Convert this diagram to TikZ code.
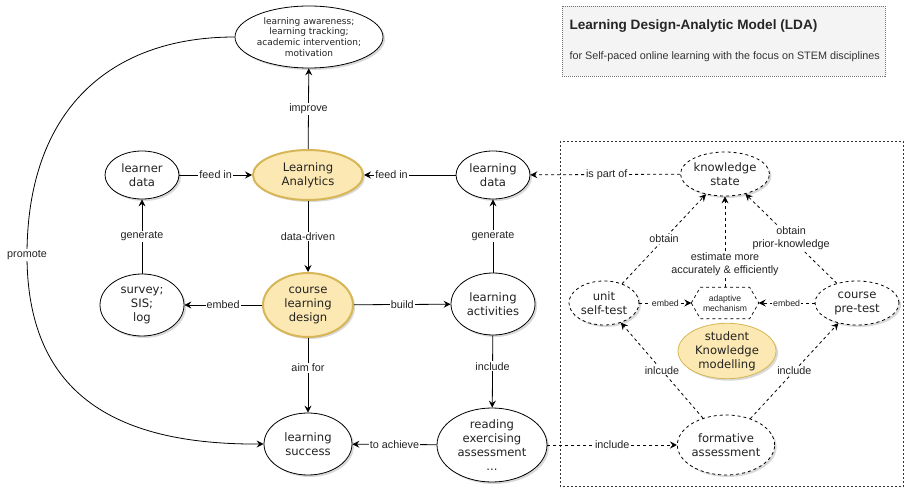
\documentclass[tikz,border=0pt]{standalone}
\usepackage{fontspec}
\setmainfont{DejaVu Sans}
\newfontfamily\lblfont{Liberation Sans}
\usetikzlibrary{arrows.meta,shapes.geometric,shadows,calc}
\definecolor{goldline}{HTML}{D6B656}
\definecolor{goldfill}{HTML}{FCE8B2}
\definecolor{legendfill}{HTML}{F4F4F4}
\definecolor{inkgray}{HTML}{222222}
\begin{document}
\begin{tikzpicture}[x=1pt,y=-1pt,
  every node/.style={align=center, text=inkgray},
  nodetext/.style={font=\fontsize{11.6}{14}\selectfont},
  sz/.style 2 args={minimum width=#1pt, minimum height=#2pt},
  softshadow/.style={drop shadow={shadow xshift=2pt, shadow yshift=-2pt, opacity=0.25, fill=black!60}},
  oval/.style={ellipse, draw=black, line width=0.8pt, fill=white, inner sep=0pt, nodetext, softshadow},
  goldoval/.style={oval, draw=goldline, fill=goldfill, line width=2pt},
  dashoval/.style={oval, dash pattern=on 3pt off 3pt},
  lbl/.style={fill=white, inner sep=1pt, font=\lblfont\fontsize{10.8}{13}\selectfont},
  smalllbl/.style={lbl, font=\lblfont\fontsize{8.8}{10}\selectfont},
  arr/.style={draw=black, line width=0.8pt, -{Stealth[length=7pt, width=7pt, inset=2.5pt]}},
  darr/.style={arr, dash pattern=on 3pt off 3pt},
]
\useasboundingbox (0,0) rectangle (905,489);

% legend
\node[draw=black!55, dash pattern=on 1pt off 1pt, fill=legendfill, line width=0.6pt,
      minimum width=323pt, minimum height=70pt, anchor=north west] (legend) at (562,6) {};
\node[anchor=west, font=\lblfont\bfseries\fontsize{13.6}{16}\selectfont, text=black!85] (ltitle) at (566,26) {Learning Design-Analytic Model (LDA)};
\node[anchor=west, font=\lblfont\fontsize{10.8}{13}\selectfont, text=black!80] (lsub) at (566,57) {for Self-paced online learning with the focus on STEM disciplines};

% knowledge modelling frame
\draw[black!80, line width=0.7pt, dash pattern=on 2pt off 2pt] (560,141) rectangle (903.5,486);

% main nodes
\node[oval, sz={148}{62}, font=\fontsize{9}{10.8}\selectfont] (aware) at (309,37)
  {learning awareness;\\learning tracking;\\academic intervention;\\motivation};
\node[oval, sz={74}{48}] (learner) at (142,175) {learner\\data};
\node[goldoval, sz={110}{50}] (la) at (308,175) {Learning\\Analytics};
\node[oval, sz={74}{48}] (ldata) at (493,175) {learning\\data};
\node[oval, sz={84}{62}] (survey) at (142,305) {survey;\\SIS;\\log};
\node[goldoval, sz={90}{64}] (cld) at (308,305) {course\\learning\\design};
\node[oval, sz={84}{62}] (acts) at (493,304) {learning\\activities};
\node[oval, sz={88}{62}] (success) at (308,444) {learning\\success};
\node[oval, sz={110}{74}] (reading) at (492,445) {reading\\exercising\\assessment\\...};

% knowledge modelling nodes
\node[dashoval, sz={76}{44}] (kstate) at (725,174) {knowledge\\state};
\node[dashoval, sz={70}{44}] (unit) at (604,303) {unit\\self-test};
\node[dashoval, sz={84}{44}] (pretest) at (857,303) {course\\pre-test};
\node[sz={67}{31}, inner sep=0pt, font=\lblfont\fontsize{8.6}{10}\selectfont] (adm) at (725,303) {adaptive\\mechanism};
\draw[black, line width=0.7pt, dash pattern=on 3pt off 3pt]
  (adm.west) -- ($(adm.north west)+(9,0)$) -- ($(adm.north east)+(-9,0)$) -- (adm.east)
  -- ($(adm.south east)+(-9,0)$) -- ($(adm.south west)+(9,0)$) -- cycle;
\node[oval, draw=goldline, fill=goldfill, line width=0.8pt, sz={98}{50}] (skm) at (727,351) {student\\Knowledge\\modelling};
\node[dashoval, sz={86}{60}] (formative) at (726,445) {formative\\assessment};

% solid connectors
\draw[arr] (la) -- node[lbl]{improve} (aware);
\draw[arr] (learner) -- node[lbl]{feed in} (la);
\draw[arr] (ldata) -- node[lbl, pos=0.7]{feed in} (la);
\draw[arr] (la) -- node[lbl]{data-driven} (cld);
\draw[arr] (survey) -- node[lbl]{generate} (learner);
\draw[arr] (acts) -- node[lbl]{generate} (ldata);
\draw[arr] (cld) -- node[lbl]{embed} (survey);
\draw[arr] (cld) -- node[lbl]{build} (acts);
\draw[arr] (cld) -- node[lbl, pos=0.4]{aim for} (success);
\draw[arr] (acts) -- node[lbl, pos=0.43]{include} (reading);
\draw[arr] (reading) -- node[lbl]{to achieve} (success);
\coordinate (promo) at (27,255);
\draw[arr] (aware.west) .. controls (110,37) and (27,110) .. (promo)
  .. controls (27,390) and (110,445) .. (success.west);
\node[lbl] (promolbl) at (promo) {promote};

% dashed connectors
\draw[darr] (kstate) -- node[lbl, pos=0.49]{is part of} (ldata);
\draw[darr] (unit) -- node[lbl]{obtain} (kstate);
\draw[darr] (pretest) -- node[lbl]{obtain\\prior-knowledge} (kstate);
\draw[darr] (adm) -- node[lbl, pos=0.25]{estimate more\\accurately \& efficiently} (kstate);
\draw[darr] (unit) -- node[smalllbl]{embed} (adm);
\draw[darr] (pretest) -- node[smalllbl]{embed} (adm);
\draw[darr] (formative) -- node[lbl]{inlcude} (unit);
\draw[darr] (formative) -- node[lbl]{include} (pretest);
\draw[darr] (reading) -- node[lbl]{include} (formative);
\end{tikzpicture}
\end{document}
